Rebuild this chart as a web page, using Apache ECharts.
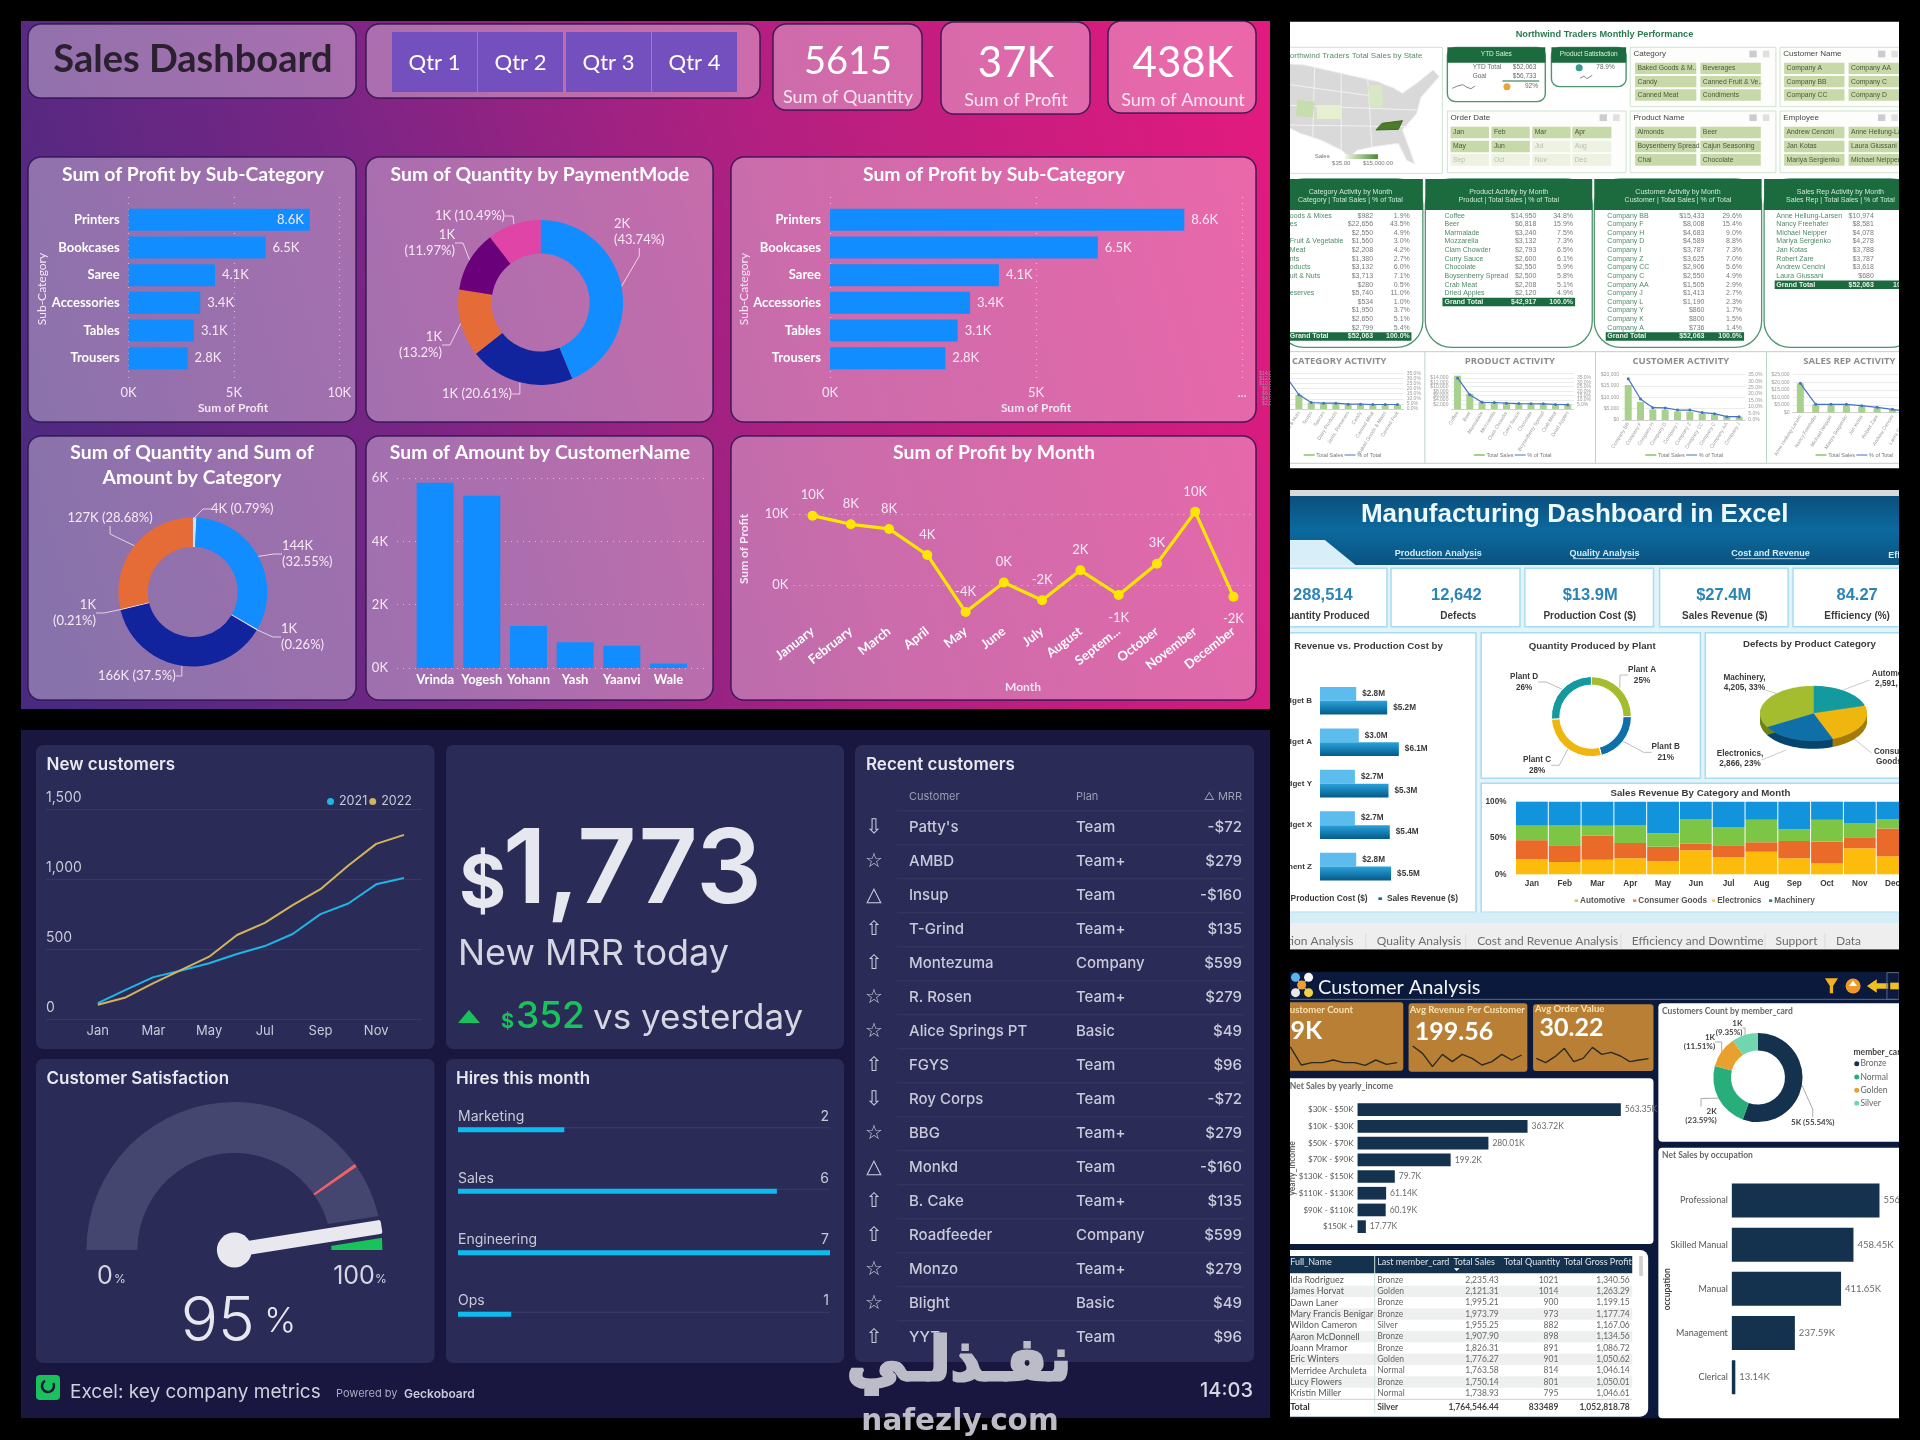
<!DOCTYPE html>
<html><head><meta charset="utf-8">
<style>html,body{margin:0;padding:0;background:#000}#c{width:1920px;height:1440px}</style>
<script src="https://cdn.jsdelivr.net/npm/echarts@6/dist/echarts.min.js"></script>
</head><body><div id="c"></div>
<script>
/* ---------- DATA: Sales Dashboard ---------- */
const subCats=["Printers","Bookcases","Saree","Accessories","Tables","Trousers"];
const subProfit=[8.6,6.5,4.1,3.4,3.1,2.8];
const payVals=[43.74,20.61,13.2,11.97,10.49];
const payLabels=["2K\n(43.74%)","1K (20.61%)","1K\n(13.2%)","1K\n(11.97%)","1K (10.49%)"];
const catVals=[0.79,32.55,0.26,37.5,0.21,28.68];
const catLabels=["4K (0.79%)","144K\n(32.55%)","1K\n(0.26%)","166K (37.5%)","1K\n(0.21%)","127K (28.68%)"];
const custNames=["Vrinda","Yogesh","Yohann","Yash","Yaanvi","Wale"];
const custAmount=[5.85,5.44,1.33,0.81,0.70,0.14];
const months=["January","February","March","April","May","June","July","August","Septem...","October","November","December"];
const monthProfit=[9.76,8.55,7.9,4.25,-3.75,0.4,-2.1,2.1,-1.36,3.03,10.3,-1.6];
const monthLabels=["10K","8K","8K","4K","-4K","0K","-2K","2K","-1K","3K","10K","-2K"];
/* ---------- DATA: Geckoboard ---------- */
const mon3=["Jan","Feb","Mar","Apr","May","Jun","Jul","Aug","Sep","Oct","Nov","Dec"];
const new2021=[114,208,299,346,398,464,521,607,749,825,962,1007];
const new2022=[102,154,256,351,445,600,687,813,927,1097,1251,1315];
const hireNames=["Marketing","Sales","Engineering","Ops"];
const hireVals=[2,6,7,1];
const hireMax=[7,7,7,7];
const satisfaction=95;
const recentIcons=["⇩","☆","△","⇧","⇧","☆","☆","⇧","⇩","☆","△","⇧","⇧","☆","☆","⇧"];
const recentNames=["Patty's","AMBD","Insup","T-Grind","Montezuma","R. Rosen","Alice Springs PT","FGYS","Roy Corps","BBG","Monkd","B. Cake","Roadfeeder","Monzo","Blight","YYT"];
const recentPlans=["Team","Team+","Team","Team+","Company","Team+","Basic","Team","Team","Team+","Team","Team+","Company","Team+","Basic","Team"];
const recentMrr=["-$72","$279","-$160","$135","$599","$279","$49","$96","-$72","$279","-$160","$135","$599","$279","$49","$96"];
/* ---------- DATA: Northwind ---------- */
const t1Names=["oods & Mixes","es","","Fruit & Vegetable","Meat","nts","oducts","uit & Nuts","","eserves","","","",""];
const t1Vals=["$982","$22,656","$2,550","$1,560","$2,208","$1,380","$3,132","$3,713","$280","$5,740","$534","$1,950","$2,650","$2,799"];
const t1Pct=["1.9%","43.5%","4.9%","3.0%","4.2%","2.7%","6.0%","7.1%","0.5%","11.0%","1.0%","3.7%","5.1%","5.4%"];
const t2Names=["Coffee","Beer","Marmalade","Mozzarella","Clam Chowder","Curry Sauce","Chocolate","Boysenberry Spread","Crab Meat","Dried Apples"];
const t2Vals=["$14,950","$6,818","$3,240","$3,132","$2,793","$2,600","$2,550","$2,500","$2,208","$2,120"];
const t2Pct=["34.8%","15.9%","7.5%","7.3%","6.5%","6.1%","5.9%","5.8%","5.1%","4.9%"];
const t3Names=["Company BB","Company F","Company H","Company D","Company I","Company Z","Company CC","Company C","Company AA","Company J","Company L","Company Y","Company K","Company A"];
const t3Vals=["$15,433","$8,008","$4,683","$4,589","$3,787","$3,625","$2,906","$2,550","$1,505","$1,413","$1,190","$860","$800","$736"];
const t3Pct=["29.6%","15.4%","9.0%","8.8%","7.3%","7.0%","5.6%","4.9%","2.9%","2.7%","2.3%","1.7%","1.5%","1.4%"];
const t4Names=["Anne Hellung-Larsen","Nancy Freehafer","Michael Neipper","Mariya Sergienko","Jan Kotas","Robert Zare","Andrew Cencini","Laura Giussani"];
const t4Vals=["$10,974","$8,581","$4,078","$4,278","$3,788","$3,787","$3,618","$680"];
const miniCatNames=["Beverages","Dried Fruit & Nuts","Soups","Sauces","Dairy Products","Jams, Preserves","Candy","Canned Meat","Baked Goods & Mixes","Canned Fruit"];
const miniCatBars=[12000,5500,2500,2200,2200,1800,1800,1700,1700,1700];
const miniCatLine=[31,14,6.4,5.7,5.7,4.7,4.7,4.4,4.4,4.4];
const miniProdBars=[14950,6818,3240,3132,2793,2600,2550,2500,2208,2120];
const miniProdLine=[34.8,15.9,7.5,7.3,6.5,6.1,5.9,5.8,5.1,4.9];
const miniCustNames=["Company BB","Company F","Company H","Company D","Company I","Company Z","Company CC","Company C","Company AA","Company J"];
const miniCustBars=[15433,8008,4683,4589,3787,3625,2906,2550,1505,1413];
const miniCustLine=[31.9,16.2,9.5,9.3,7.7,7.7,5.7,4.9,2.6,2.6];
const miniRepBars=[19300,5480,5480,5480,4600,3500,2200,700];
const miniRepLine=[19.3,5.5,5.5,5.5,4.6,3.5,2.2,0.7];
/* ---------- DATA: Manufacturing ---------- */
const products=["Widget B","Widget A","Widget Y","Widget X","ponent Z"];
const prodCost=[2.8,3.0,2.7,2.7,2.8];
const prodRevenue=[5.2,6.1,5.3,5.4,5.5];
const plantVals=[25,21,28,26];
const plantLabels=["Plant A\n25%","Plant B\n21%","Plant C\n28%","Plant D\n26%"];
const defectVals=[2591,2980,2866,4205];
const stackAuto=[21,17,20,22,18,33,23.5,31,22,15,36,25];
const stackCons=[26,23,33,21,20,9,16.5,13,24,30,15,38];
const stackElec=[20,28,14,25,18.5,34,25,31,16,30,19,13];
const stackMach=[33,32,33,32,43.5,24,35,25,38,25,30,24];
/* ---------- DATA: Customer Analysis ---------- */
const spark1=[72,68,15,22,22,30,22,22,14,30,17,22];
const spark2=[72,50,10,47,25,47,35,15,25,47,30,45];
const spark3=[35,22,40,65,25,35,68,47,53,42,25,30,34];
const incomeCats=["$30K - $50K","$10K - $30K","$50K - $70K","$70K - $90K","$130K - $150K","$110K - $130K","$90K - $110K","$150K +"];
const incomeVals=[563.35,363.72,280.01,199.2,79.7,61.14,60.19,17.77];
const cardVals=[55.54,23.59,11.51,9.35];
const cardLabels=["5K (55.54%)","2K\n(23.59%)","1K\n(11.51%)","1K\n(9.35%)"];
const occCats=["Professional","Skilled Manual","Manual","Management","Clerical"];
const occVals=[556.5,458.45,411.65,237.59,13.14];
const tblNames=["Ida Rodriguez","James Horvat","Dawn Laner","Mary Francis Benigar","Wildon Cameron","Aaron McDonnell","Joann Mramor","Eric Winters","Merridee Archuleta","Lucy Flowers","Kristin Miller"];
const tblCards=["Bronze","Golden","Bronze","Bronze","Silver","Bronze","Bronze","Golden","Normal","Bronze","Normal"];
const tblSales=["2,235.43","2,121.31","1,995.21","1,973.79","1,955.25","1,907.90","1,826.31","1,776.27","1,763.58","1,750.14","1,738.93"];
const tblQty=["1021","1014","900","973","882","898","891","901","814","801","795"];
const tblGp=["1,340.56","1,263.29","1,199.15","1,177.74","1,167.06","1,134.56","1,086.72","1,050.62","1,046.14","1,050.01","1,046.61"];

/* ---------- helpers ---------- */
const LG=(x,y,x2,y2,stops)=>new echarts.graphic.LinearGradient(x,y,x2,y2,stops.map((c,i)=>({offset:c[0],color:c[1]})));
const grids=[],xAxes=[],yAxes=[],series=[],gfx=[],extraY=[];
let zc=0;
const add=(el,z)=>{el.z=z==null?-10:z;el.z2=zc++;el.silent=true;gfx.push(el);return el;};
const I={x0:0,y0:0,sx:1,sy:1};
const mX=(m,x)=>m.x0+x/m.sx, mY=(m,y)=>m.y0+y/m.sy;
function R(m,x1,y1,x2,y2,fill,o){o=o||{};add({type:'rect',shape:{x:mX(m,x1),y:mY(m,y1),width:mX(m,x2)-mX(m,x1),height:mY(m,y2)-mY(m,y1),r:o.r||0},style:{fill:fill,stroke:o.stroke||null,lineWidth:o.lw||1}},o.z);}
function T(m,x,y,text,font,fill,align,o){o=o||{};add({type:'text',rotation:o.rot||0,x:mX(m,x),y:mY(m,y),style:{text:text,x:0,y:0,font:font,fill:fill,textAlign:align||'left',textVerticalAlign:'middle',stroke:o.stroke||null,lineWidth:o.lw||0}},o.z==null?10:o.z);}
function L(m,pts,stroke,lw,o){o=o||{};add({type:'polyline',shape:{points:pts.map(p=>[mX(m,p[0]),mY(m,p[1])])},style:{stroke:stroke,lineWidth:lw||1,fill:null}},o.z==null?-5:o.z);}
function PG(m,pts,fill,o){o=o||{};add({type:'polygon',shape:{points:pts.map(p=>[mX(m,p[0]),mY(m,p[1])])},style:{fill:fill,stroke:o.stroke||null,lineWidth:o.lw||1}},o.z==null?-5:o.z);}
function C(m,x,y,r,fill,o){o=o||{};add({type:'circle',shape:{cx:mX(m,x),cy:mY(m,y),r:r},style:{fill:fill}},o.z==null?-5:o.z);}
const box=(m,x1,y1,x2,y2)=>({x:mX(m,x1),y:mY(m,y1),w:mX(m,x2)-mX(m,x1),h:mY(m,y2)-mY(m,y1)});
function G(b,xa,ya){const i=grids.length;grids.push({left:b.x,top:b.y,width:b.w,height:b.h,outerBoundsMode:'none',show:false});
  xAxes.push(Object.assign({gridIndex:i},xa));yAxes.push(Object.assign({gridIndex:i},ya));return i;}
const OFF={show:false};
const HIDE={axisLine:OFF,axisTick:OFF,splitLine:OFF,axisLabel:OFF};
function pie(opts){series.push({type:'pie',silent:true,center:opts.c,radius:opts.r,startAngle:90,avoidLabelOverlap:false,
  data:opts.vals.map((v,i)=>({value:v,name:opts.labels[i],itemStyle:{color:opts.colors[i],borderColor:opts.gap?'#fff':null,borderWidth:opts.gap||0}})),
  label:{show:true,formatter:'{b}',color:opts.lc,fontFamily:opts.ff,fontSize:opts.fs,fontWeight:opts.fw||'normal',lineHeight:opts.lh,align:'left'},
  labelLine:{show:true,length:6,length2:8,lineStyle:{color:opts.lineC,width:1}},
  labelLayout:p=>{const q=opts.pos[p.dataIndex];return {x:q[0],y:q[1],align:q[2],verticalAlign:'middle'};}});}

/* ---------- SALES DASHBOARD ---------- */
const PUR='rgba(255,255,255,0.34)',EDGE='rgba(45,20,75,0.85)';
add({type:'rect',shape:{x:21,y:21,width:1249,height:688},style:{fill:LG(0,0.75,1,0.25,[[0,'#4a2a80'],[0.32,'#7a2585'],[0.62,'#b02080'],[1,'#e01a7e'],])}},-20);
function panel(x1,y1,x2,y2){R(I,x1,y1,x2,y2,PUR,{r:13,stroke:EDGE,lw:1.5,z:-15});}
panel(28,24,356,98);panel(366,24,760,98);panel(773,24,922,110);panel(941,22,1090,114);panel(1108,21,1256,113);
panel(28,157,356,422);panel(366,157,713,422);panel(731,157,1256,422);
panel(28,436,356,700);panel(366,436,713,700);panel(731,436,1256,700);
const SF='Lato';
T(I,193,60,"Sales Dashboard",`bold 38px ${SF}`,'#2a2030','center');
[[392,477,"Qtr 1"],[478,563,"Qtr 2"],[566,651,"Qtr 3"],[652,737,"Qtr 4"]].forEach(q=>{R(I,q[0],32,q[1],92,'#7450bf',{z:-12});T(I,(q[0]+q[1])/2,63,q[2],`22px ${SF}`,'#fff','center');});
T(I,848,62,"5615",`38px ${SF}`,'#fff','center');T(I,848,97,"Sum of Quantity",`18px ${SF}`,'#fbe6f0','center');
T(I,1016,63,"37K",`42px ${SF}`,'#fff','center');T(I,1016,100,"Sum of Profit",`18px ${SF}`,'#fbe6f0','center');
T(I,1183,63,"438K",`42px ${SF}`,'#fff','center');T(I,1183,100,"Sum of Amount",`18px ${SF}`,'#fbe6f0','center');
const TF=`bold 19.4px ${SF}`;
T(I,193,175,"Sum of Profit by Sub-Category",TF,'#fff','center');
T(I,540,175,"Sum of Quantity by PaymentMode",TF,'#fff','center');
T(I,994,175,"Sum of Profit by Sub-Category",TF,'#fff','center');
T(I,192,453,"Sum of Quantity and Sum of",TF,'#fff','center');T(I,192,478,"Amount by Category",TF,'#fff','center');
T(I,540,453,"Sum of Amount by CustomerName",TF,'#fff','center');
T(I,994,453,"Sum of Profit by Month",TF,'#fff','center');
const DOT={show:true,lineStyle:{color:'rgba(255,255,255,0.55)',type:[1,5],width:1.2}};
const blue='#118dff';
function hbar(x0,xEnd,labelRule,lastDots){
  G({x:x0,y:197,w:xEnd-x0,h:186},{type:'value',min:0,max:10,interval:5,axisLine:OFF,axisTick:OFF,splitLine:DOT,
    axisLabel:{show:true,margin:3,color:'#f5e6f4',fontFamily:SF,fontSize:13,formatter:v=>(lastDots&&v===10)?'...':v+'K'}},
    Object.assign({type:'value',min:0,max:1},HIDE));
  const g=G({x:x0,y:206,w:xEnd-x0,h:166},Object.assign({type:'value',min:0,max:10},HIDE),
    {type:'category',inverse:true,data:subCats,axisLine:OFF,axisTick:OFF,axisLabel:{show:true,margin:9,color:'#fff',fontFamily:SF,fontSize:13,fontWeight:'bold'}});
  series.push({type:'bar',silent:true,xAxisIndex:g,yAxisIndex:g,data:subProfit.map((v,i)=>({value:v,label:labelRule(i)})),barWidth:22,itemStyle:{color:blue},
    label:{show:true,position:'right',distance:7,color:'#f7e8f4',fontFamily:SF,fontSize:13,formatter:p=>p.value+'K'}});
}
hbar(128.6,339.3,i=>i===0?{position:'insideRight',distance:6}:{});
hbar(830,1242,()=>({}),true);
T(I,233,408,"Sum of Profit",`bold 12px ${SF}`,'#f5e6f4','center');T(I,1036,408,"Sum of Profit",`bold 12px ${SF}`,'#f5e6f4','center');
T(I,42,289,"Sub-Category",`12px ${SF}`,'#f5e6f4','center',{rot:Math.PI/2});T(I,744,289,"Sub-Category",`12px ${SF}`,'#f5e6f4','center',{rot:Math.PI/2});
pie({c:[540.6,302.5],r:[49,82.5],vals:payVals,labels:payLabels,colors:['#118dff','#12239e','#e66c37','#6b007b','#e044a7'],lc:'#f7e8f4',ff:SF,fs:13,lh:16,lineC:'rgba(255,255,255,0.7)',
  pos:[[614,232,'left'],[442,394,'left'],[442,345,'right'],[455,243,'right'],[435,216,'left']]});
pie({c:[192.8,592],r:[45,74.5],vals:catVals,labels:catLabels,colors:['#bfe6ff',blue,'#f6f0ff','#12239e','#ffe8d0','#e66c37'],lc:'#f7e8f4',ff:SF,fs:13,lh:16,lineC:'rgba(255,255,255,0.7)',
  pos:[[211,509,'left'],[282,554,'left'],[281,637,'left'],[98,676,'left'],[96,613,'right'],[67.5,518,'left']]});
G({x:397,y:478,w:308,h:190},Object.assign({type:'category',data:['a']},HIDE),{type:'value',min:0,max:6,interval:2,axisLine:OFF,axisTick:OFF,splitLine:DOT,axisLabel:{show:true,margin:9,color:'#f5e6f4',fontFamily:SF,fontSize:13,formatter:v=>v+'K'}});
let g=G({x:411.8,y:478,w:280,h:190},{type:'category',data:custNames,axisLine:OFF,axisTick:OFF,axisLabel:{show:true,interval:0,margin:5,color:'#fff',fontFamily:SF,fontSize:13,fontWeight:'bold'}},Object.assign({type:'value',min:0,max:6},HIDE));
series.push({type:'bar',silent:true,xAxisIndex:g,yAxisIndex:g,data:custAmount,barWidth:37,itemStyle:{color:blue}});
g=G({x:793.4,y:499.7,w:459.2,h:156.9},{type:'category',data:months,axisLine:OFF,axisTick:OFF,axisLabel:{show:true,interval:0,rotate:38,margin:-27,color:'#fff',fontFamily:SF,fontSize:13,fontWeight:'bold'}},
  {type:'value',min:-10,max:12,interval:10,axisLine:OFF,axisTick:OFF,splitLine:Object.assign({showMinLine:false,showMaxLine:false},DOT),axisLabel:{show:true,margin:5,color:'#f5e6f4',fontFamily:SF,fontSize:13,formatter:v=>(v===0||v===10)?v+'K':''}});
series.push({type:'line',silent:true,xAxisIndex:g,yAxisIndex:g,data:monthProfit.map((v,i)=>({value:v,label:{formatter:monthLabels[i],position:(i===8||i===11)?'bottom':'top',distance:(i===8||i===11)?11:9}})),
  lineStyle:{color:'#ffe600',width:3.2},itemStyle:{color:'#ffe600'},symbol:'circle',symbolSize:10,label:{show:true,color:'#f7e8f4',fontFamily:SF,fontSize:13}});
T(I,1023,687,"Month",`bold 12px ${SF}`,'#f5e6f4','center');
T(I,744,549,"Sum of Profit",`bold 12px ${SF}`,'#f5e6f4','center',{rot:Math.PI/2});

/* ---------- GECKOBOARD ---------- */
const GF='Inter',gp='#2a2b56',gt='#c9cad9';
R(I,21,730,1270,1418,'#19163f',{z:-20});
[[36,745,434.5,1049],[446,745,844,1049],[36,1059,434.5,1363],[446,1059,844,1363],[855,745,1254,1362]].forEach(b=>R(I,b[0],b[1],b[2],b[3],gp,{r:7,z:-15}));
T(I,46.5,765,"New customers",`600 17px ${GF}`,'#e8e8f0');
T(I,46.5,1079,"Customer Satisfaction",`600 17px ${GF}`,'#e8e8f0');
T(I,456,1079,"Hires this month",`600 17px ${GF}`,'#e8e8f0');
T(I,866,765,"Recent customers",`600 17px ${GF}`,'#e8e8f0');
G({x:46,y:809,w:376,h:210},Object.assign({type:'category',data:['a']},HIDE),{type:'value',min:0,max:1500,interval:500,axisLine:OFF,axisTick:OFF,splitLine:{show:true,lineStyle:{color:'#373862',width:1}},
  axisLabel:{show:true,inside:true,margin:0,verticalAlign:'bottom',padding:[0,0,4,0],color:gt,fontFamily:GF,fontSize:14,formatter:v=>v>=1000?String(v).replace(/(\d)(\d{3})$/,'$1,$2'):v}});
g=G({x:97.8,y:809,w:306.2,h:210},{type:'category',boundaryGap:false,data:mon3,axisLine:OFF,axisTick:OFF,axisLabel:{show:true,interval:1,margin:6,color:gt,fontFamily:GF,fontSize:13}},Object.assign({type:'value',min:0,max:1500},HIDE));
series.push({type:'line',silent:true,name:'2021',xAxisIndex:g,yAxisIndex:g,data:new2021,showSymbol:false,lineStyle:{color:'#1fb6e6',width:2},itemStyle:{color:'#1fb6e6'}});
series.push({type:'line',silent:true,name:'2022',xAxisIndex:g,yAxisIndex:g,data:new2022,showSymbol:false,lineStyle:{color:'#d4b45a',width:2},itemStyle:{color:'#d4b45a'}});
T(I,459,885,"$",`700 72px ${GF}`,'#e7e7ef');
T(I,503,872,"1,773",`600 103px ${GF}`,'#e7e7ef');
T(I,458,954,"New MRR today",`400 36px ${GF}`,'#d5d6e2');
PG(I,[[469,1010],[458,1023],[480,1023]],'#19c25a',{z:10});
T(I,501,1022,"$",`700 20px ${GF}`,'#19c25a');
T(I,516,1017,"352",`500 37px ${GF}`,'#19c25a');
T(I,593,1018,"vs yesterday",`400 35px ${GF}`,'#d5d6e2');
series.push({type:'gauge',silent:true,center:[234.4,1250],radius:148,startAngle:180,endAngle:0,min:0,max:100,
  axisLine:{lineStyle:{width:51,color:[[0.802,'#45466f'],[0.81,'#e8646a'],[0.93,'#45466f'],[0.965,gp],[1,'#19c25a']]}},
  axisTick:OFF,splitLine:OFF,axisLabel:OFF,title:OFF,
  pointer:{icon:'roundRect',length:'102%',width:18,offsetCenter:[0,0],itemStyle:{color:'#e8e8ee',borderColor:gp,borderWidth:4}},
  anchor:{show:true,showAbove:true,size:35,itemStyle:{color:'#e8e8ee'}},
  detail:{offsetCenter:[4,72],formatter:v=>'{a|'+v+'}{b| %}',rich:{a:{fontFamily:GF,fontSize:62,color:'#e7e7ef',fontWeight:300},b:{fontFamily:GF,fontSize:34,color:'#e7e7ef',fontWeight:300}}},
  data:[{value:satisfaction}]});
T(I,105,1276,"0",`400 25px ${GF}`,'#d5d6e2','center');T(I,120,1279,"%",`400 12px ${GF}`,'#d5d6e2','center');
T(I,354,1276,"100",`400 25px ${GF}`,'#d5d6e2','center');T(I,381,1279,"%",`400 12px ${GF}`,'#d5d6e2','center');
g=G({x:458,y:1099,w:372,h:246},Object.assign({type:'value',min:0,max:7},HIDE),Object.assign({type:'category',inverse:true,data:hireNames},HIDE));
series.push({type:'bar',silent:true,xAxisIndex:g,yAxisIndex:g,data:hireMax,barWidth:1,z:1,itemStyle:{color:'#3c3d68'}});
series.push({type:'bar',silent:true,xAxisIndex:g,yAxisIndex:g,data:hireVals,barWidth:5,barGap:'-100%',itemStyle:{color:'#0cbcf0'}});
hireNames.forEach((n,i)=>{const y=1117+i*61.3;T(I,458,y,n,`400 14px ${GF}`,'#c9cad9');T(I,829,y,String(hireVals[i]),`400 14px ${GF}`,'#c9cad9','right');});
R(I,36,1375,60,1400,'#19c25a',{r:4,z:0});
add({type:'arc',shape:{cx:48,cy:1386,r:6,startAngle:-0.5,endAngle:4.2},style:{stroke:'#19163f',lineWidth:2.5,fill:null}},1);
T(I,70,1392,"Excel: key company metrics",`400 19px ${GF}`,'#cfd0dd');
T(I,336,1394,"Powered by ",`400 11px ${GF}`,'#a9aabf');T(I,404,1394,"Geckoboard",`600 12px ${GF}`,'#c9cad9');
T(I,1253,1391,"14:03",`500 20px ${GF}`,'#d5d6e2','right');
T(I,909,797,"Customer",`400 11px ${GF}`,'#9d9eb6');T(I,1076,797,"Plan",`400 11px ${GF}`,'#9d9eb6');T(I,1242,797,"△ MRR",`400 11px ${GF}`,'#9d9eb6','right');
recentNames.forEach((n,i)=>{const y=827.8+i*34;
  L(I,[[897,y-17],[1244,y-17]],'#393a66',1);
  T(I,874,y,recentIcons[i],`20px "DejaVu Sans"`,'#c9cad9','center');
  T(I,909,y,n,`500 15px ${GF}`,'#c9cad9');T(I,1076,y,recentPlans[i],`500 15px ${GF}`,'#c9cad9');T(I,1242,y,recentMrr[i],`500 15px ${GF}`,'#c9cad9','right');});

/* ---------- NORTHWIND ---------- */
const N={x0:1280,y0:10,sx:2.45,sy:3},NF='"Liberation Sans"',dg='#1b6b3f';
R(N,0,35,1517,1375,'#ffffff',{z:-20});
T(N,795,72,"Northwind Traders Monthly Performance",`bold 9.2px ${NF}`,'#2a7a50','center');
R(N,-5,112,398,490,'#fff',{stroke:'#cfe3cf',z:-15});
T(N,24,136,"orthwind Traders Total Sales by State",`8px ${NF}`,'#5a8a6a');
PG(N,[[0,160],[60,165],[240,215],[258,225],[275,232],[300,250],[340,215],[375,180],[390,200],[345,262],[335,310],[300,360],[315,410],[330,462],[310,450],[290,400],[230,410],[190,420],[170,442],[150,420],[100,390],[50,370],[0,340]],'#d9d9d9',{stroke:'#eeeeee'});
[[[0,220],[250,262]],[[0,285],[335,300]],[[20,345],[320,350]],[[85,170],[80,385]],[[150,190],[150,420]],[[215,205],[225,410]]].forEach(l=>L(N,l,'#f2f2f2',1));
PG(N,[[90,285],[150,285],[150,327],[90,327]],'#e6efd0');PG(N,[[42,270],[85,275],[80,322],[40,318]],'#c6deab');PG(N,[[215,225],[250,225],[252,290],[220,290]],'#d8e8c4');
PG(N,[[235,360],[250,340],[300,332],[290,358]],'#4a7c2a',{stroke:'#3c6a20'});
add({type:'rect',shape:{x:mX(N,160),y:mY(N,433),width:80/2.45,height:14/3},style:{fill:LG(0,0,1,0,[[0,'#eef5e0'],[1,'#4a8a30']])}},-5);
T(N,85,440,"Sales",`6px ${NF}`,'#777');T(N,150,461,"$35.00",`6px ${NF}`,'#777','center');T(N,240,461,"$15,000.00",`6px ${NF}`,'#777','center');
/* KPI cards */
function card(x1,x2,y2,title){R(N,x1,112,x2,y2,'#fff',{r:8,stroke:'#4f9570',lw:1.4,z:-14});R(N,x1,112,x2,158,dg,{z:-13});T(N,(x1+x2)/2,132,title,`6.5px ${NF}`,'#d9efe0','center');}
card(410,650,275,"YTD Sales");card(665,848,230,"Product Satisfaction");
const sm=`6.5px ${NF}`,smc='#6a6a6a';
T(N,472,173,"YTD Total",sm,smc);T(N,628,173,"$52,063",sm,smc,'right');T(N,472,200,"Goal",sm,smc);T(N,628,200,"$56,733",sm,smc,'right');
L(N,[[545,213],[635,213]],dg,1.2);T(N,632,230,"92%",sm,smc,'right');C(N,556,230,3.5,'#e8a33d');
L(N,[[422,235],[435,228],[448,224],[458,232],[468,236],[478,228]],'#888',1);
C(N,733,173,3.5,'#3a9a90');T(N,775,173,"78.9%",sm,smc);L(N,[[735,205],[745,198],[752,206],[765,196]],'#888',1);
function slicer(x1,y1,x2,y2,title,cols,rows,labels,dark){
  R(N,x1,y1,x2,y2,'#fdfefb',{stroke:'#cfe3cf',z:-15});T(N,x1+8,y1+20,title,`8px ${NF}`,'#444');
  R(N,x2-65,y1+10,x2-47,y1+30,'#ccc',{z:-12});R(N,x2-32,y1+10,x2-16,y1+30,'#e0e0e0',{z:-12});
  let k=0;rows.forEach(r=>cols.forEach(c=>{const on=k<dark;R(N,c[0],r[0],c[1],r[1],on?'#c7d9a9':'#edf2e2',{z:-12});
    T(N,c[0]+6,(r[0]+r[1])/2,labels[k],`6.8px ${NF}`,on?'#4a5a3a':'#b8c0ae');k++;}));}
const rA=[[158,192],[198,232],[238,272]],rB=[[350,385],[392,427],[432,467]];
slicer(858,112,1215,290,"Category",[[870,1020],[1030,1178]],rA,["Baked Goods & M..","Beverages","Candy","Canned Fruit & Ve..","Canned Meat","Condiments"],6);
slicer(1225,112,1530,290,"Customer Name",[[1235,1383],[1393,1530]],rA,["Company A","Company AA","Company BB","Company C","Company CC","Company D"],6);
slicer(410,303,848,488,"Order Date",[[418,512],[518,612],[618,712],[716,812]],rB,["Jan","Feb","Mar","Apr","May","Jun","Jul","Aug","Sep","Oct","Nov","Dec"],6);
slicer(858,303,1215,488,"Product Name",[[870,1020],[1030,1178]],rB,["Almonds","Beer","Boysenberry Spread","Cajun Seasoning","Chai","Chocolate"],6);
slicer(1225,303,1530,488,"Employee",[[1235,1383],[1393,1530]],rB,["Andrew Cencini","Anne Hellung-Larsen","Jan Kotas","Laura Giussani","Mariya Sergienko","Michael Neipper"],6);
/* pivot tables */
function pivot(x1,x2,head1,head2,names,vals,pcts,xN,xV,xP,total,bx1,bx2,tot){
  R(N,x1,507,x2,1012,'#fff',{r:26,stroke:'#4f9570',lw:1.3,z:-15});
  R(N,x1,507,x2,600,dg,{z:-14});
  const cx=(x1+x2)/2;T(N,cx,545,head1,`7px ${NF}`,'#cfe8d8','center');T(N,cx,570,head2,`7px ${NF}`,'#cfe8d8','center');
  const f=`7px ${NF}`,c='#7a7a7a';
  names.forEach((n,i)=>{const y=617+i*25.85;if(n)T(N,xN,y,n,f,'#4f8a68');T(N,xV,y,vals[i],f,c,'right');if(pcts)T(N,xP,y,pcts[i],f,c,'right');});
  const y=617+names.length*25.85;R(N,bx1,y-12,bx2,y+13,dg,{z:-12});
  T(N,xN,y,"Grand Total",`bold 7px ${NF}`,'#e4f2e8');T(N,xV,y,tot,`bold 7px ${NF}`,'#e4f2e8','right');T(N,xP,y,"100.0%",`bold 7px ${NF}`,'#e4f2e8','right');
}
pivot(-5,350,"Category Activity by Month","Category | Total Sales | % of Total",t1Names,t1Vals,t1Pct,24,228,318,0,24,322,"$52,063");
pivot(356,765,"Product Activity by Month","Product | Total Sales | % of Total",t2Names,t2Vals,t2Pct,403,628,718,0,398,723,"$42,917");
pivot(770,1180,"Customer Activity by Month","Customer | Total Sales | % of Total",t3Names,t3Vals,t3Pct,802,1040,1132,0,798,1137,"$52,063");
pivot(1186,1560,"Sales Rep Activity by Month","Sales Rep | Total Sales | % of Total",t4Names,t4Vals,null,1216,1455,1560,0,1212,1560,"$52,063");
L(N,[[0,1025],[1517,1025]],'#b9d6c4',1);L(N,[[0,1360],[1517,1360]],'#b9d6c4',1);
[355,773,1192].forEach(x=>L(N,[[x,1025],[x,1360]],'#b9d6c4',1));
[[145,"CATEGORY ACTIVITY"],[563,"PRODUCT ACTIVITY"],[982,"CUSTOMER ACTIVITY"],[1395,"SALES REP ACTIVITY"]].forEach(a=>T(N,a[0],1055,a[1],`bold 9.5px "Open Sans"`,'#8d8d8d','center'));
[58,475,895,1312].forEach(x=>{R(N,x,1332,x+27,1338,'#a9d18e',{z:-5});T(N,x+31,1336,"Total Sales",`5.5px ${NF}`,'#777');L(N,[[x+100,1335],[x+127,1335]],'#4472c4',1);T(N,x+131,1336,"% of Total",`5.5px ${NF}`,'#777');});
function mini(b,names,bars,line,max,iv,pmax,piv,showRight){
  const ax=G(b,{type:'category',data:names,axisLine:{show:true,lineStyle:{color:'#d0d0d0'}},axisTick:OFF,axisLabel:{show:true,interval:0,rotate:58,margin:3,color:'#9a9a9a',fontFamily:'Liberation Sans',fontSize:5}},
    {type:'value',min:0,max:max,interval:iv,axisLine:OFF,axisTick:OFF,splitLine:{show:true,lineStyle:{color:'#ececec',width:1}},axisLabel:{show:true,margin:3,color:'#9a9a9a',fontFamily:'Liberation Sans',fontSize:5,formatter:v=>'$'+v.toLocaleString('en-US')}});
  series.push({type:'bar',silent:true,xAxisIndex:ax,yAxisIndex:ax,data:bars,barWidth:7,itemStyle:{color:'#a9d18e'}});
  const ls={type:'line',silent:true,xAxisIndex:ax,data:line,symbol:'circle',symbolSize:3,lineStyle:{color:'#4472c4',width:1.2},itemStyle:{color:'#4472c4'}};
  series.push(ls);
  extraY.push({ls:ls,axis:{gridIndex:ax,type:'value',position:'right',min:0,max:pmax,interval:piv,axisLine:OFF,axisTick:OFF,splitLine:OFF,axisLabel:{show:showRight,margin:3,color:'#9a9a9a',fontFamily:'Liberation Sans',fontSize:5,formatter:v=>v.toFixed(1)+'%'}}});
}
mini(box(N,1,1090,303,1197),miniCatNames,miniCatBars,miniCatLine,14000,2000,35,5,true);
mini(box(N,420,1090,720,1197),t2Names,miniProdBars,miniProdLine,16000,2000,40,5,true);
mini(box(N,838,1094,1140,1230),miniCustNames,miniCustBars,miniCustLine,20000,5000,35,5,true);
mini(box(N,1256,1094,1557,1208),t4Names,miniRepBars,miniRepLine,25000,5000,25,5,false);

/* ---------- MANUFACTURING ---------- */
const M={x0:1280,y0:480,sx:2.45,sy:3},MF='"Liberation Sans"';
R(M,0,30,1517,1408,'#e3f3fa',{z:-20});
R(M,0,30,1517,48,'#d8d8d8',{z:-19});
add({type:'rect',shape:{x:1280,y:mY(M,48),width:620,height:(255-48)/3},style:{fill:LG(0,0,0,1,[[0,'#0a4f7e'],[0.5,'#0c6a9e'],[1,'#0a5280']])}},-18);
T(M,722,103,"Manufacturing Dashboard in Excel",`bold 26px ${MF}`,'#eef9ff','center');
PG(M,[[0,180],[110,180],[185,255],[0,255]],'#d8eff9',{z:-17});
[[388,"Production Analysis"],[795,"Quality Analysis"],[1202,"Cost and Revenue"]].forEach(a=>{T(M,a[0],222,a[1],`bold 9px ${MF}`,'#d7ecf7','center');});
L(M,[[292,236],[484,236]],'#d7ecf7',0.8,{z:5});L(M,[[718,236],[872,236]],'#d7ecf7',0.8,{z:5});L(M,[[1116,236],[1289,236]],'#d7ecf7',0.8,{z:5});
T(M,1490,226,"Efficiency Analysis",`bold 9px ${MF}`,'#d7ecf7');
[[0,262,105,"288,514",110,"Quantity Produced"],[272,588,432,"12,642",437,"Defects"],[600,915,760,"$13.9M",759,"Production Cost ($)"],[930,1245,1087,"$27.4M",1090,"Sales Revenue ($)"],[1257,1560,1414,"84.27",1414,"Efficiency (%)"]].forEach(k=>{
  R(M,k[0],265,k[1],440,'#fff',{stroke:'#a8dcee',lw:1.5,z:-15});T(M,k[2],345,k[3],`bold 16.5px ${MF}`,'#2b84b6','center');T(M,k[4],408,k[5],`bold 10px ${MF}`,'#3a3a3a','center');});
[[-5,458,480,1297],[493,458,1030,895],[1042,458,1560,895],[493,910,1560,1297]].forEach(b=>R(M,b[0],b[1],b[2],b[3],'#fff',{stroke:'#a8dcee',lw:1.5,z:-15}));
const mt=`bold 9.7px ${MF}`,mc='#3a3a3a',ml=`bold 8.2px ${MF}`;
T(M,217,498,"Revenue vs. Production Cost by",mt,mc,'center');T(M,765,500,"Quantity Produced by Plant",mt,mc,'center');T(M,1297,493,"Defects by Product Category",mt,mc,'center');T(M,1030,940,"Sales Revenue By Category and Month",mt,mc,'center');
g=G(box(M,98,600,478,1222),Object.assign({type:'value',min:0,max:12},HIDE),{type:'category',inverse:true,data:products,axisLine:OFF,axisTick:OFF,axisLabel:{show:true,interval:0,margin:8,color:mc,fontFamily:'Liberation Sans',fontSize:8,fontWeight:'bold'}});
const mlab={show:true,position:'right',distance:6,color:mc,fontFamily:'Liberation Sans',fontSize:8.2,fontWeight:'bold',formatter:p=>'$'+p.value.toFixed(1)+'M'};
series.push({type:'bar',silent:true,xAxisIndex:g,yAxisIndex:g,data:prodCost,barWidth:13.8,barGap:'0%',itemStyle:{color:'#5cbcee'},label:mlab});
series.push({type:'bar',silent:true,xAxisIndex:g,yAxisIndex:g,data:prodRevenue,barWidth:13.8,barGap:'0%',itemStyle:{color:LG(0,0,0,1,[[0,'#2aa3dc'],[1,'#045a8a']])},label:mlab});
T(M,26,1256,"Production Cost ($)",`bold 8.3px ${MF}`,mc);R(M,241,1252,250,1260,'#0c6fa6',{z:0});T(M,262,1256,"Sales Revenue ($)",`bold 8.3px ${MF}`,mc);
pie({c:[mX(M,763),mY(M,710)],r:[31.6,40],vals:plantVals,labels:plantLabels,colors:['#a4bd2f','#0f6fa8','#eeb60e','#129a9e'],gap:1,lc:mc,ff:'Liberation Sans',fs:8.2,fw:'bold',lh:10.5,lineC:'#bdbdbd',
  pos:[[mX(M,887),mY(M,585),'center'],[mX(M,945),mY(M,817),'center'],[mX(M,630),mY(M,856),'center'],[mX(M,598),mY(M,606),'center']]});
/* pseudo-3D pie */
const pc=[mX(M,1307),mY(M,700)],prx=53.5,pry=27.5,pdepth=8,pcols=['#129a9e','#eeb60e','#0f6fa8','#a4bd2f'],pdark=['#0a6a6e','#a47c06','#07466e','#6f8219'];
series.push({type:'custom',silent:true,coordinateSystem:'none',data:defectVals,renderItem:(p,api)=>{
  const i=p.dataIndex,tot=defectVals.reduce((a,b)=>a+b,0);let s=0;for(let k=0;k<i;k++)s+=defectVals[k];
  const a0=-Math.PI/2+s/tot*2*Math.PI,a1=a0+defectVals[i]/tot*2*Math.PI,pts=[],n=36;
  for(let k=0;k<=n;k++){const t=a0+(a1-a0)*k/n;pts.push([Math.cos(t)*prx,Math.sin(t)*pry]);}
  const poly=(dy,fill,z2,st)=>({type:'polygon',z2:z2,shape:{points:[[pc[0],pc[1]+dy]].concat(pts.map(q=>[pc[0]+q[0],pc[1]+q[1]+dy]))},style:{fill:fill,stroke:st||null,lineWidth:0.5}});
  const ch=[];for(let d=pdepth;d>=1;d--)ch.push(poly(d,pdark[i],1));ch.push(poly(0,pcols[i],2,'#ffffff22'));
  return {type:'group',children:ch};}});
T(M,1138,592,"Machinery,",ml,mc,'center');T(M,1138,622,"4,205, 33%",ml,mc,'center');
T(M,1450,580,"Automotive,",ml,mc);T(M,1458,610,"2,591, 21%",ml,mc);
T(M,1127,820,"Electronics,",ml,mc,'center');T(M,1127,850,"2,866, 23%",ml,mc,'center');
T(M,1455,815,"Consumer",ml,mc);T(M,1460,845,"Goods, 24%",ml,mc);
L(M,[[1215,640],[1190,630]],'#bdbdbd',0.8);L(M,[[1375,632],[1445,600]],'#bdbdbd',0.8);L(M,[[1240,810],[1180,840]],'#bdbdbd',0.8);L(M,[[1400,770],[1450,820]],'#bdbdbd',0.8);
g=G(box(M,577,965,1541,1183),{type:'category',data:mon3,axisLine:OFF,axisTick:OFF,axisLabel:{show:true,interval:0,margin:5,color:mc,fontFamily:'Liberation Sans',fontSize:8.2,fontWeight:'bold'}},
  {type:'value',min:0,max:100,interval:50,axisLine:OFF,axisTick:OFF,splitLine:OFF,axisLabel:{show:true,margin:9,color:mc,fontFamily:'Liberation Sans',fontSize:8.2,fontWeight:'bold',formatter:v=>v+'%'}});
[[stackAuto,'#fdbb0c'],[stackCons,'#ea6a2a'],[stackElec,'#7dc545'],[stackMach,'#1294dc']].forEach(s=>series.push({type:'bar',silent:true,xAxisIndex:g,yAxisIndex:g,stack:'rev',data:s[0],barCategoryGap:'3%',itemStyle:{color:s[1]}}));
[[722,"Automotive",'#c6d440'],[865,"Consumer Goods",'#ea8a3a'],[1058,"Electronics",'#f0d060'],[1198,"Machinery",'#1b8f8f']].forEach(a=>{R(M,a[0],1258,a[0]+8,1266,a[2],{z:0});T(M,a[0]+13,1262,a[1],ml,'#555');});
R(M,0,1297,1517,1330,'#d5edf7',{z:-14});R(M,0,1330,1517,1408,'#eeeeee',{z:-14});
const TABF=`12px Lato`;
T(M,180,1383,"ction Analysis",TABF,'#6e6e6e','right');
[[237,"Quality Analysis"],[483,"Cost and Revenue Analysis"],[862,"Efficiency and Downtime"],[1214,"Support"],[1362,"Data"]].forEach(a=>T(M,a[0],1383,a[1],TABF,'#6e6e6e'));
[210,455,835,1188,1335].forEach(x=>L(M,[[x,1360],[x,1405]],'#dcdcdc',1));

/* ---------- CUSTOMER ANALYSIS ---------- */
const A={x0:1280,y0:960,sx:2.45,sy:3},AF='Lato',navy='#14314d';
R(A,0,35,1517,1375,'#0b1a3c',{z:-20});
L(A,[[0,118],[1510,118]],'#5a6a80',1,{z:-18});
L(A,[[38,52],[70,98]],'#c9c9d8',1.2);L(A,[[70,52],[38,98]],'#c9c9d8',1.2);
[[38,52,'#5bb5e8'],[70,52,'#f5f5f5'],[38,98,'#e8e8e8'],[70,98,'#f5d042'],[53,75,'#f0a030']].forEach(d=>C(A,d[0],d[1],4.5,d[2]));
T(A,93,82,"Customer Analysis",`20px ${AF}`,'#f2f4f8');
PG(A,[[1335,55],[1367,55],[1355,78],[1355,100],[1347,100],[1347,78]],'#f2b01e');
C(A,1404,78,7.5,'#ee9a2a');PG(A,[[1404,62],[1394,78],[1414,78]],'#fff');
PG(A,[[1438,78],[1462,58],[1462,70],[1490,70],[1490,86],[1462,86],[1462,98]],'#f2c01e');R(A,1495,68,1520,88,'#f2c01e',{z:-5});
R(A,1487,38,1517,118,'rgba(0,0,0,0)',{stroke:'#5a6a80',z:-5});
[[-5,127,302,332],[315,130,606,335],[620,133,915,333]].forEach(b=>R(A,b[0],b[1],b[2],b[3],'#b98035',{r:3,z:-15}));
T(A,24,150,"ustomer Count",`bold 9.5px ${AF}`,'#f5e1b0');T(A,318,150,"Avg Revenue Per Customer",`bold 9.5px ${AF}`,'#f5e1b0');T(A,625,148,"Avg Order Value",`bold 9.5px ${AF}`,'#f5e1b0');
T(A,26,212,"9K",`bold 25px ${AF}`,'#fff');T(A,330,217,"199.56",`bold 25px ${AF}`,'#fff');T(A,636,204,"30.22",`bold 25px ${AF}`,'#fff');
[[0,287,spark1,250],[325,592,spark2,250],[628,903,spark3,250]].forEach(s=>{
  const gi=G(box(A,s[0],s[3],s[1],330),{type:'category',boundaryGap:false,data:s[2].map((v,i)=>i),axisLine:OFF,axisTick:OFF,axisLabel:OFF,splitLine:OFF},Object.assign({type:'value',min:0,max:80},HIDE));
  series.push({type:'line',silent:true,xAxisIndex:gi,yAxisIndex:gi,data:s[2],showSymbol:false,lineStyle:{color:'#2b2a26',width:1.4}});});
R(A,-5,355,915,852,'#fff',{r:4,z:-15});R(A,927,130,1560,545,'#fff',{r:4,z:-15});R(A,927,563,1560,1375,'#fff',{r:4,z:-15});R(A,-5,870,902,1370,'#fff',{r:8,z:-15});
const at=`bold 8.5px ${AF}`,atc='#666';
T(A,24,379,"Net Sales by yearly_income",at,atc);T(A,936,153,"Customers Count by member_card",at,atc);T(A,936,586,"Net Sales by occupation",at,atc);
T(A,29,625,"yearly_income",at,atc,'center',{rot:Math.PI/2});T(A,948,988,"occupation",at,'#444','center',{rot:Math.PI/2});
const alab={show:true,position:'right',distance:4,color:'#6a6a6a',fontFamily:'Lato',fontSize:8.5,formatter:p=>p.value+'K'};
g=G(box(A,190,424,877,825),Object.assign({type:'value',min:0,max:600},HIDE),{type:'category',inverse:true,data:incomeCats,axisLine:OFF,axisTick:OFF,axisLabel:{show:true,interval:0,margin:4,color:'#555',fontFamily:'Lato',fontSize:8}});
series.push({type:'bar',silent:true,xAxisIndex:g,yAxisIndex:g,data:incomeVals,barWidth:12.7,itemStyle:{color:navy},label:alab});
g=G(box(A,1107,655,1562,1318),Object.assign({type:'value',min:0,max:700},HIDE),{type:'category',inverse:true,data:occCats,axisLine:OFF,axisTick:OFF,axisLabel:{show:true,interval:0,margin:4,color:'#555',fontFamily:'Lato',fontSize:9}});
series.push({type:'bar',silent:true,xAxisIndex:g,yAxisIndex:g,data:occVals,barWidth:34,itemStyle:{color:navy},label:Object.assign({},alab,{fontSize:9.5})});
pie({c:[mX(A,1171),mY(A,352.5)],r:[27,44.6],vals:cardVals,labels:cardLabels,colors:[navy,'#27ae7a','#e8a02f','#6fd6b0'],lc:'#444',ff:'Lato',fs:8,fw:'bold',lh:9.5,lineC:'#aaa',
  pos:[[mX(A,1252),mY(A,486),'left'],[mX(A,1070),mY(A,468),'right'],[mX(A,1066),mY(A,246),'right'],[mX(A,1133),mY(A,204),'right']]});
T(A,1405,277,"member_card",`bold 8.5px ${AF}`,'#444');
[["Bronze",navy,311],["Normal",'#27ae7a',351],["Golden",'#e8a02f',391],["Silver",'#6fd6b0',430]].forEach(a=>{C(A,1413,a[2],2.5,a[1]);T(A,1422,a[2],a[0],`8.5px ${AF}`,'#666');});
R(A,-5,888,863,940,navy,{z:-13});
[[25,"Full_Name"],[238,"Last member_card"],[425,"Total Sales"],[548,"Total Quantity"],[695,"Total Gross Profit"]].forEach(h=>T(A,h[0],905,h[1],`9px ${AF}`,'#dbe3ea'));
PG(A,[[426,925],[440,925],[433,933]],'#fff',{z:5});
R(A,880,888,889,948,'#cfcfcf',{z:-12});
L(A,[[232,888],[232,1360]],'#cfe6da',1);
const tf=`8.5px ${AF}`,tc='#666';
tblNames.forEach((n,i)=>{const y=960+i*34;if(i%2)R(A,-5,y-17,863,y+17,'#eef0f0',{z:-13});
  T(A,25,y,n,`9px ${AF}`,'#555');T(A,238,y,tblCards[i],tf,tc);T(A,536,y,tblSales[i],tf,tc,'right');T(A,682,y,tblQty[i],tf,tc,'right');T(A,857,y,tblGp[i],tf,tc,'right');});
L(A,[[0,1318],[863,1318]],'#d0d0d0',1);
const tb=`bold 8.5px ${AF}`;
T(A,25,1342,"Total",`bold 9px ${AF}`,'#333');T(A,238,1342,"Silver",tb,'#444');T(A,536,1342,"1,764,546.44",tb,'#444','right');T(A,682,1342,"833489",tb,'#444','right');T(A,857,1342,"1,052,818.78",tb,'#444','right');

/* ---------- masks & watermark ---------- */
add({type:'rect',shape:{x:1271,y:0,width:19,height:1440},style:{fill:'#000'}},100);
add({type:'rect',shape:{x:1899,y:0,width:21,height:1440},style:{fill:'#000'}},100);
T(I,959,1364,"نفـذلـي",`bold 60px "DejaVu Sans"`,'#bcbcc8','center',{z:120,stroke:'#bcbcc8',lw:3});
T(I,960,1422,"nafezly.com",`bold 29.5px "DejaVu Sans"`,'#bcbcc8','center',{z:120});

extraY.forEach(e=>{e.ls.yAxisIndex=yAxes.length;yAxes.push(e.axis);});
const chart=echarts.init(document.getElementById('c'),null,{renderer:'canvas',width:1920,height:1440});
chart.setOption({animation:false,backgroundColor:'#000',
  legend:{show:true,data:['2021','2022'],left:322,top:790,itemWidth:7,itemHeight:7,itemGap:2,icon:'circle',textStyle:{color:'#c9cad9',fontFamily:'Inter',fontSize:12.5},selectedMode:false},
  tooltip:{show:false},grid:grids,xAxis:xAxes,yAxis:yAxes,series:series,graphic:{elements:gfx}});
</script></body></html>
